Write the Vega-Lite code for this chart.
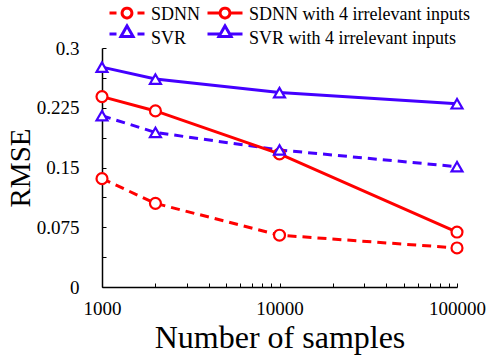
{
  "$schema": "https://vega.github.io/schema/vega-lite/v6.json",
  "width": 355,
  "height": 239,
  "autosize": {"type": "none"},
  "padding": {"left": 102, "top": 48, "right": 31, "bottom": 72},
  "background": "white",
  "config": {
    "view": {"stroke": null},
    "font": "Liberation Serif",
    "axis": {"grid": false, "domainColor": "black", "domainWidth": 1.5, "tickColor": "black", "tickWidth": 1, "labelColor": "black", "titleColor": "black", "labelFont": "Liberation Serif", "titleFont": "Liberation Serif", "titleFontWeight": "normal", "labelFlush": false},
    "legend": {"labelFont": "Liberation Serif"}
  },
  "data": {
    "values": [
      {"n": 1000, "rmse": 0.136, "series": "SDNN"},
      {"n": 2000, "rmse": 0.105, "series": "SDNN"},
      {"n": 10000, "rmse": 0.065, "series": "SDNN"},
      {"n": 100000, "rmse": 0.049, "series": "SDNN"},
      {"n": 1000, "rmse": 0.239, "series": "SDNN with 4 irrelevant inputs"},
      {"n": 2000, "rmse": 0.221, "series": "SDNN with 4 irrelevant inputs"},
      {"n": 10000, "rmse": 0.167, "series": "SDNN with 4 irrelevant inputs"},
      {"n": 100000, "rmse": 0.069, "series": "SDNN with 4 irrelevant inputs"},
      {"n": 1000, "rmse": 0.215, "series": "SVR"},
      {"n": 2000, "rmse": 0.194, "series": "SVR"},
      {"n": 10000, "rmse": 0.172, "series": "SVR"},
      {"n": 100000, "rmse": 0.151, "series": "SVR"},
      {"n": 1000, "rmse": 0.276, "series": "SVR with 4 irrelevant inputs"},
      {"n": 2000, "rmse": 0.261, "series": "SVR with 4 irrelevant inputs"},
      {"n": 10000, "rmse": 0.244, "series": "SVR with 4 irrelevant inputs"},
      {"n": 100000, "rmse": 0.230, "series": "SVR with 4 irrelevant inputs"}
    ]
  },
  "encoding": {
    "x": {
      "field": "n", "type": "quantitative",
      "scale": {"type": "log", "domain": [1000, 100000], "nice": false},
      "axis": {
        "title": "Number of samples",
        "titleFontSize": 32, "titlePadding": 4,
        "values": [1000, 2000, 3000, 4000, 5000, 6000, 7000, 8000, 9000, 10000, 20000, 30000, 40000, 50000, 60000, 70000, 80000, 90000, 100000],
        "format": "d",
        "labelExpr": "(datum.value == 1000 || datum.value == 10000 || datum.value == 100000) ? datum.label : ''",
        "labelOverlap": false,
        "labelFontSize": 19,
        "labelPadding": 16,
        "tickSize": -4
      }
    },
    "y": {
      "field": "rmse", "type": "quantitative",
      "scale": {"domain": [0, 0.3], "nice": false, "zero": true},
      "axis": {
        "title": "RMSE",
        "titleFontSize": 29, "titlePadding": 1,
        "values": [0, 0.0375, 0.075, 0.1125, 0.15, 0.1875, 0.225, 0.2625, 0.3],
        "labelExpr": "abs(datum.value / 0.075 - round(datum.value / 0.075)) < 0.01 ? format(datum.value, '~g') : ''",
        "labelOverlap": false,
        "labelFontSize": 19,
        "labelPadding": 27,
        "tickSize": -4
      }
    },
    "color": {
      "field": "series", "type": "nominal",
      "scale": {
        "domain": ["SDNN", "SDNN with 4 irrelevant inputs", "SVR", "SVR with 4 irrelevant inputs"],
        "range": ["#ff0000", "#ff0000", "#4400ff", "#4400ff"]
      },
      "legend": {
        "title": null,
        "orient": "none",
        "direction": "horizontal",
        "legendX": 13.5,
        "legendY": -45,
        "columns": 2,
        "columnPadding": 1,
        "rowPadding": -5,
        "padding": 0,
        "labelFontSize": 18,
        "labelOffset": 12.5,
        "labelLimit": 400,
        "labelColor": "black",
        "symbolSize": 400,
        "symbolStrokeWidth": 3,
        "symbolFillColor": "white",
        "symbolOpacity": 1,
        "symbolDash": [1, 0]
      }
    }
  },
  "layer": [
    {
      "transform": [{"filter": "indexof(datum.series, 'with') < 0"}],
      "mark": {"type": "line", "strokeWidth": 3, "strokeDash": [9, 6]}
    },
    {
      "transform": [{"filter": "indexof(datum.series, 'with') >= 0"}],
      "mark": {"type": "line", "strokeWidth": 3}
    },
    {
      "transform": [{"filter": "indexof(datum.series, 'SDNN') == 0"}],
      "mark": {"type": "point", "shape": "circle", "filled": false, "fill": "white", "fillOpacity": 1, "opacity": 1, "strokeWidth": 2.2, "size": 120}
    },
    {
      "transform": [{"filter": "indexof(datum.series, 'SVR') == 0"}],
      "mark": {"type": "point", "shape": "triangle-up", "filled": false, "fill": "white", "fillOpacity": 1, "opacity": 1, "strokeWidth": 2.2, "size": 120}
    },
    {
      "mark": {"type": "point", "filled": false, "fill": "white", "opacity": 0, "size": 400},
      "encoding": {
        "shape": {
          "field": "series", "type": "nominal",
          "scale": {
            "domain": ["SDNN", "SDNN with 4 irrelevant inputs", "SVR", "SVR with 4 irrelevant inputs"],
            "range": [
              "M-1.75,-0.15H-1.05M1.05,-0.15H1.75M0.49,-0.15C0.49,0.1206 0.2706,0.34 0,0.34C-0.2706,0.34 -0.49,0.1206 -0.49,-0.15C-0.49,-0.4206 -0.2706,-0.64 0,-0.64C0.2706,-0.64 0.49,-0.4206 0.49,-0.15Z",
              "M-1.75,-0.15H-0.49M0.49,-0.15H1.75M0.49,-0.15C0.49,0.1206 0.2706,0.34 0,0.34C-0.2706,0.34 -0.49,0.1206 -0.49,-0.15C-0.49,-0.4206 -0.2706,-0.64 0,-0.64C0.2706,-0.64 0.49,-0.4206 0.49,-0.15Z",
              "M-1.75,-0.45H-1.05M1.05,-0.45H1.75M0,-1.26L0.6,-0.21L-0.6,-0.21Z",
              "M-1.75,-0.45H-0.5M0.5,-0.45H1.75M0,-1.26L0.6,-0.21L-0.6,-0.21Z"
            ]
          }
        }
      }
    }
  ]
}
